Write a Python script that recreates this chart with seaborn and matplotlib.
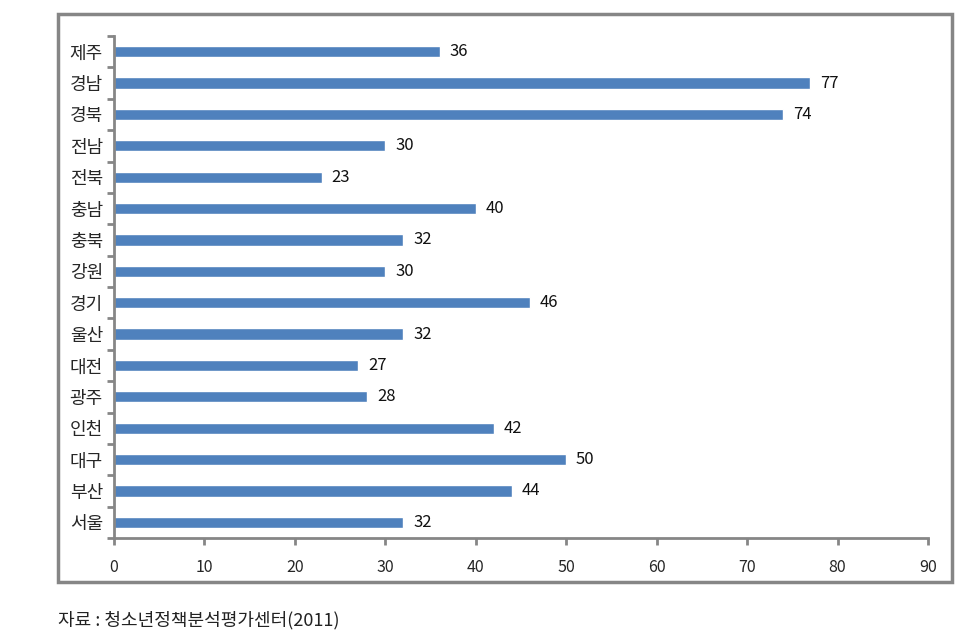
import matplotlib
matplotlib.use("Agg")
import matplotlib.pyplot as plt
import seaborn as sns
import pandas as pd
import numpy as np
from matplotlib.patches import Rectangle

regions = ["제주", "경남", "경북", "전남", "전북", "충남", "충북", "강원",
           "경기", "울산", "대전", "광주", "인천", "대구", "부산", "서울"]
values = [36, 77, 74, 30, 23, 40, 32, 30, 46, 32, 27, 28, 42, 50, 44, 32]
x_ticks = [0, 10, 20, 30, 40, 50, 60, 70, 80, 90]
source_text = "자료 : 청소년정책분석평가센터(2011)"

sns.set_theme(style="white")
plt.rcParams['font.family'] = ['Noto Sans CJK KR', 'DejaVu Sans']

df = pd.DataFrame({"region": regions, "value": values})

fig = plt.figure(figsize=(9.73, 6.42), dpi=100)
ax = fig.add_axes([114/973, 1-538/642, (928-114)/973, (538-36)/642])

sns.barplot(data=df, y="region", x="value", orient="h", color="#4F81BD",
            saturation=1, width=0.36, ax=ax, order=regions)

gray = "#868686"
ax.set_xlim(0, 90)
ax.set_ylim(len(regions) - 0.5, -0.5)
ax.set_xticks(x_ticks)
ax.set_xticklabels([str(t) for t in x_ticks], fontsize=11.5)
ax.set_xlabel("")
ax.set_ylabel("")
ax.set_yticks(np.arange(-0.5, len(regions), 1.0), minor=True)
ax.tick_params(axis="y", which="major", left=True, length=0, labelsize=13, pad=8)
ax.tick_params(axis="y", which="minor", left=True, length=5, width=2, color=gray, direction="out")
ax.tick_params(axis="x", which="major", bottom=True, length=5, width=2, color=gray,
               direction="out", pad=10)
for s in ["top", "right"]:
    ax.spines[s].set_visible(False)
for s in ["left", "bottom"]:
    ax.spines[s].set_color(gray)
    ax.spines[s].set_linewidth(2)

for i, v in enumerate(values):
    ax.annotate(str(v), xy=(v, i), xytext=(7, 0), textcoords="offset points",
                va="center", ha="left", fontsize=12, color="#111111")

fig.patches.append(Rectangle((58/973, 1-582/642), (952-58)/973, (582-14)/642,
                             transform=fig.transFigure, fill=False,
                             edgecolor=gray, linewidth=2.5, zorder=0))

fig.text(58/973, 1-620/642, source_text, fontsize=13, va="center", ha="left",
         color="#222222")

fig.savefig("out.png", dpi=100)
